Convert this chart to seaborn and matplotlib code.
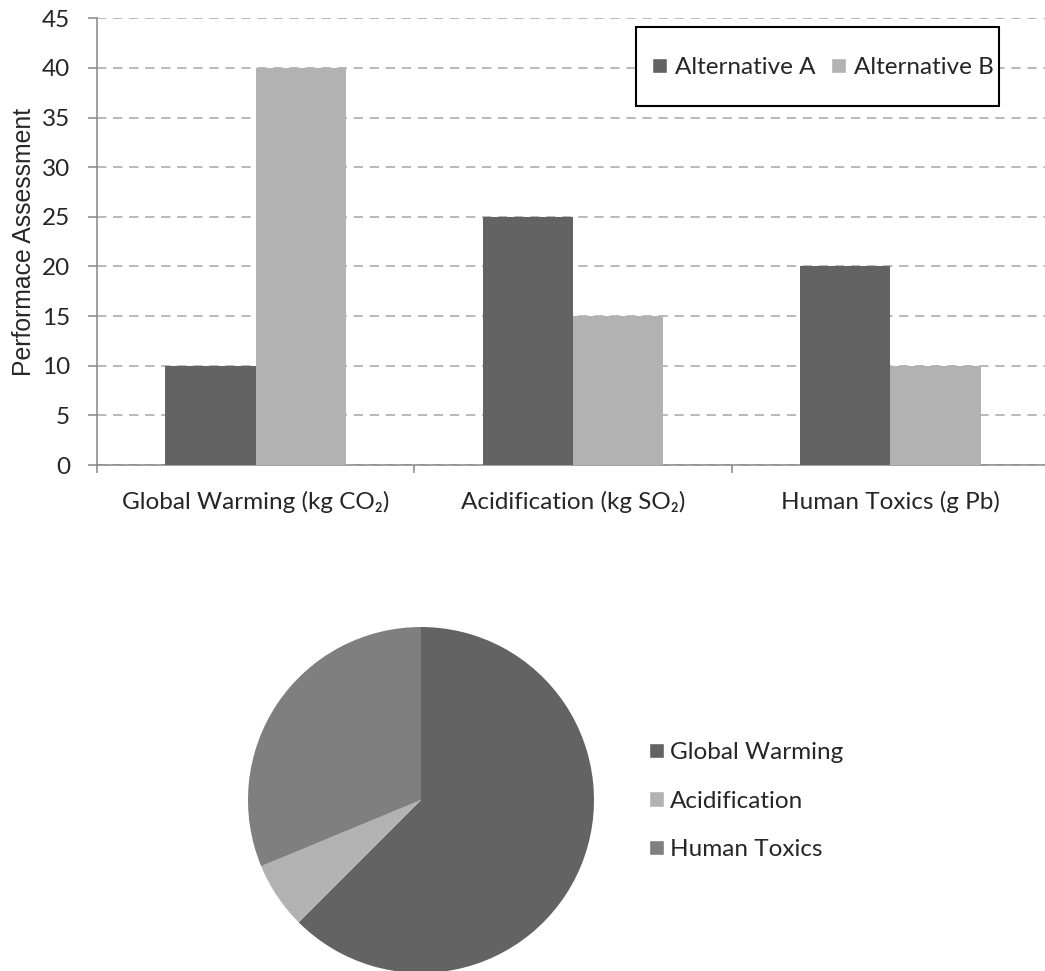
import numpy as np
import pandas as pd
import matplotlib
matplotlib.use("Agg")
import matplotlib.pyplot as plt
import seaborn as sns
from matplotlib.patches import Rectangle, Patch

# Bar chart data
categories = ["Global Warming (kg CO₂)", "Acidification (kg SO₂)", "Human Toxics (g Pb)"]
alternatives = ["Alternative A", "Alternative B"]
alt_a = [10, 25, 20]
alt_b = [40, 15, 10]
y_ticks = [0, 5, 10, 15, 20, 25, 30, 35, 40, 45]

# Pie chart data
pie_labels = ["Global Warming", "Acidification", "Human Toxics"]
pie_values = [10, 1, 5]

DARK = "#636363"
LIGHT = "#b2b2b2"
MID = "#7f7f7f"
AXIS_GREY = "#868686"
GRID_GREY = "#a6a6a6"
FS = 17.5

sns.set_style("white")
plt.rcParams["font.family"] = ["Lato", "DejaVu Sans"]

W, H = 1045, 971
fig = plt.figure(figsize=(W / 100, H / 100), dpi=100)

# ---------------- bar chart ----------------
ax = fig.add_axes([97 / W, 1 - 465 / H, 952 / W, 446.7 / H])
df = pd.DataFrame({
    "category": categories * len(alternatives),
    "alternative": [a for a in alternatives for _ in categories],
    "value": alt_a + alt_b,
})
sns.barplot(data=df, x="category", y="value", hue="alternative",
            palette={alternatives[0]: DARK, alternatives[1]: LIGHT},
            saturation=1, width=0.57, errorbar=None, linewidth=0,
            ax=ax, legend=False, zorder=3)

ax.set_xlim(-0.5, 2.5)
ax.set_ylim(0, 45)
ax.set_yticks(y_ticks)
ax.set_xlabel("")
ax.set_ylabel("Performace Assessment", family=["Liberation Sans", "DejaVu Sans"],
              fontsize=17.8, labelpad=4)

ax.yaxis.grid(True, linestyle=(0, (6.1, 4.4)), color=GRID_GREY, linewidth=1.1)
ax.xaxis.grid(False)
ax.set_axisbelow(True)

for side in ("top", "right"):
    ax.spines[side].set_visible(False)
for side in ("left", "bottom"):
    ax.spines[side].set_color(AXIS_GREY)
    ax.spines[side].set_linewidth(1.1)

ax.tick_params(axis="y", direction="out", length=6.5, width=1.1, color=AXIS_GREY,
               pad=13, labelsize=FS, left=True)
ax.set_xticks([-0.5, 0.5, 1.5, 2.5], minor=True)
ax.tick_params(axis="x", which="major", length=0, pad=18.5, labelsize=FS)
ax.tick_params(axis="x", which="minor", direction="out", length=6, width=1.1,
               color=AXIS_GREY, bottom=True)

# legend box with fixed frame
ax.add_patch(Rectangle((636 / W, 1 - 106 / H), (999 - 636) / W, 79 / H,
                       transform=fig.transFigure, facecolor="white",
                       edgecolor="black", linewidth=1.5, clip_on=False, zorder=4))
bar_handles = [Patch(facecolor=DARK), Patch(facecolor=LIGHT)]
ax.legend(bar_handles, alternatives, loc="center", ncol=2,
          bbox_to_anchor=(823 / W, 1 - 67.5 / H), bbox_transform=fig.transFigure,
          frameon=False, borderpad=0, borderaxespad=0, fontsize=FS,
          handlelength=0.6, handleheight=0.6, handletextpad=0.33,
          columnspacing=0.66)

# ---------------- pie chart ----------------
r = 173
ax2 = fig.add_axes([(421 - r) / W, 1 - (800 + r) / H, 2 * r / W, 2 * r / H])
ax2.pie(pie_values, colors=[DARK, LIGHT, MID], startangle=90, counterclock=False,
        radius=1, wedgeprops=dict(linewidth=0))
ax2.set_xlim(-1, 1)
ax2.set_ylim(-1, 1)
ax2.axis("off")

pie_handles = [Patch(facecolor=c) for c in (DARK, LIGHT, MID)]
fig.legend(pie_handles, pie_labels, loc="center left",
           bbox_to_anchor=(649 / W, 1 - 801 / H), bbox_transform=fig.transFigure,
           frameon=False, borderpad=0, borderaxespad=0, fontsize=FS,
           handlelength=0.62, handleheight=0.62, handletextpad=0.25,
           labelspacing=1.13)

fig.savefig("out.png", dpi=100)
